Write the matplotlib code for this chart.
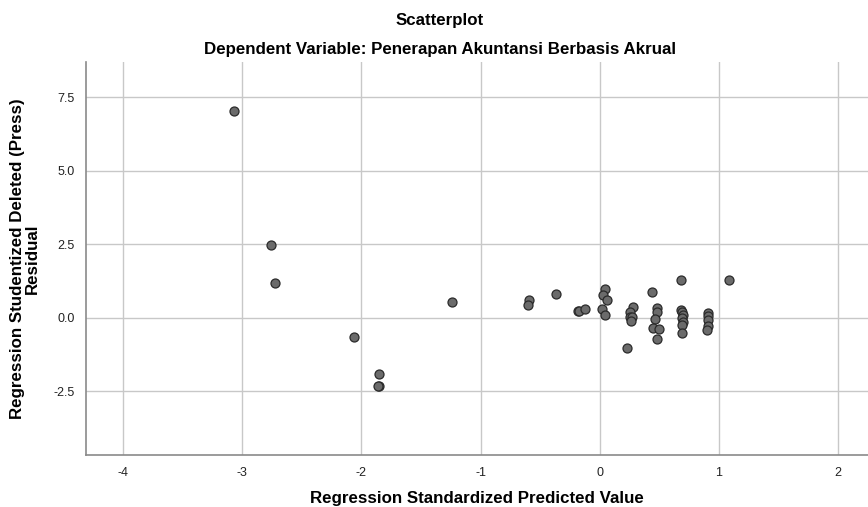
import matplotlib
matplotlib.use('Agg')
import matplotlib.pyplot as plt

# predicted (standardized) and studentized deleted residual values
pred = [-3.07, -2.76, -2.72, -2.06, -1.85, -1.85, -1.86, -1.24,
        -0.59, -0.60, -0.37, -0.18, -0.17, -0.12,
        0.04, 0.03, 0.06, 0.02, 0.045,
        0.28, 0.25, 0.25, 0.27, 0.26, 0.23,
        0.44, 0.48, 0.48, 0.46, 0.45, 0.50, 0.48,
        0.68, 0.685, 0.69, 0.70, 0.69, 0.70, 0.69, 0.69,
        0.905, 0.905, 0.91, 0.905, 0.90, 1.08]
resid = [7.04, 2.48, 1.19, -0.65, -1.90, -2.31, -2.33, 0.54,
         0.61, 0.45, 0.81, 0.24, 0.23, 0.31,
         0.98, 0.79, 0.59, 0.30, 0.09,
         0.37, 0.21, 0.04, 0.04, -0.09, -1.01,
         0.88, 0.32, 0.19, -0.03, -0.36, -0.39, -0.71,
         1.30, 0.27, 0.21, 0.10, -0.01, -0.13, -0.25, -0.52,
         0.15, 0.07, -0.07, -0.26, -0.41, 1.30]

xticks = [-4, -3, -2, -1, 0, 1, 2]
yticks = [-2.5, 0.0, 2.5, 5.0, 7.5]

plt.rcParams['font.family'] = ['Liberation Sans', 'DejaVu Sans']

fig = plt.figure(figsize=(8.68, 5.07), dpi=100)
ax = fig.add_axes([0.099, 0.1026, 0.901, 0.7754])

ax.scatter(pred, resid, s=42, facecolor='#6b6b6b', edgecolor='#2a2a2a',
           linewidth=0.9, zorder=3)

ax.set_xlim(-4.31, 2.25)
ax.set_ylim(-4.66, 8.7)
ax.set_xticks(xticks)
ax.set_yticks(yticks)
ax.set_xticklabels([str(t) for t in xticks])
ax.set_yticklabels(['%.1f' % t for t in yticks])
ax.grid(True, color='#c8c8c8', linewidth=1.0, zorder=0)
ax.tick_params(length=0, labelsize=9, colors='#222222')
ax.tick_params(axis='x', pad=9)
ax.tick_params(axis='y', pad=8)

for side in ['top', 'right']:
    ax.spines[side].set_visible(False)
for side in ['left', 'bottom']:
    ax.spines[side].set_color('#8a8a8a')
    ax.spines[side].set_linewidth(1.2)

ax.set_xlabel('Regression Standardized Predicted Value', fontsize=12.2,
              fontweight='bold', labelpad=8)
ax.set_ylabel('Regression Studentized Deleted (Press)\nResidual', fontsize=12.2,
              fontweight='bold', labelpad=10, linespacing=0.95)

fig.text(0.507, 0.96, 'Scatterplot', ha='center', va='center', fontsize=12.2,
         fontweight='bold')
fig.text(0.507, 0.902, 'Dependent Variable: Penerapan Akuntansi Berbasis Akrual',
         ha='center', va='center', fontsize=12.2, fontweight='bold')

fig.savefig('out.png', dpi=100)
